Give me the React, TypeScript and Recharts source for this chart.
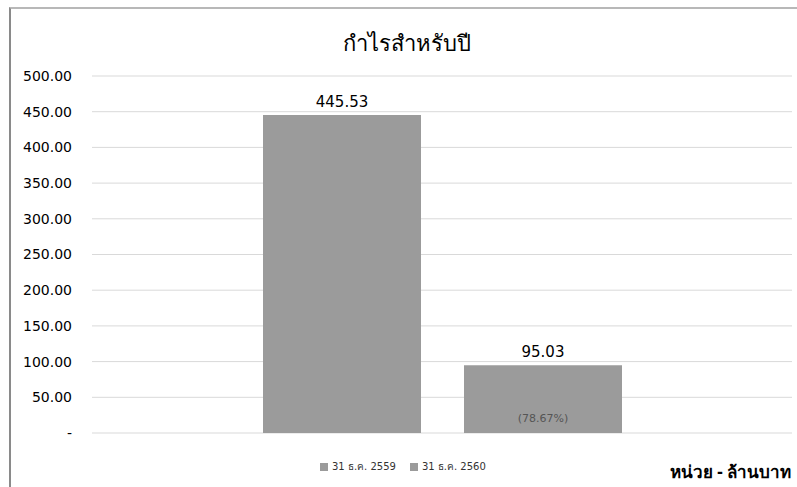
import { Bar, BarChart, CartesianGrid, LabelList, XAxis, YAxis } from "recharts";

const categories = ["กำไรสำหรับปี"];
const seriesNames = ["31 ธ.ค. 2559", "31 ธ.ค. 2560"];
const profit2559 = [445.53];
const profit2560 = [95.03];
const change2560 = ["(78.67%)"];
const yTicks = [0, 50, 100, 150, 200, 250, 300, 350, 400, 450, 500];

const BAR_FILL = "#9b9b9b";

const data = categories.map((c, i) => ({
  name: c,
  y2559: profit2559[i],
  y2560: profit2560[i],
  change: change2560[i],
}));

const fmt = (v: number) => (v === 0 ? "-" : v.toFixed(2));

export default function App() {
  return (
    <div style={{ position: "absolute", left: 0, top: 0, width: 797, height: 487, background: "#fff" }}>
      <div
        style={{
          position: "absolute",
          left: 9,
          top: 7,
          width: 788,
          height: 480,
          borderLeft: "2px solid #8a8a8a",
          borderTop: "2px solid #b8b8b8",
        }}
      />
      <div
        style={{
          position: "absolute",
          left: 0,
          width: 797,
          top: 26,
          textAlign: "center",
          fontFamily: "Tahoma, 'Noto Sans', sans-serif",
          fontSize: 22,
          fontWeight: 500,
          paddingLeft: 8,
          color: "#000",
        }}
      >
        {categories[0]}
      </div>
      <BarChart
        width={797}
        height={487}
        data={data}
        margin={{ top: 76, right: 5, bottom: 54, left: 0 }}
        barSize={158}
        barGap={43}
      >
        <CartesianGrid vertical={false} stroke="#d9d9d9" />
        <XAxis dataKey="name" hide />
        <YAxis
          width={92}
          domain={[0, 500]}
          ticks={yTicks}
          tickFormatter={fmt}
          axisLine={false}
          tickLine={false}
          tickSize={0}
          tickMargin={20}
          tick={{ fill: "#000", fontSize: 14, fontFamily: "DejaVu Sans, sans-serif" }}
        />
        <Bar dataKey="y2559" name={seriesNames[0]} fill={BAR_FILL} isAnimationActive={false}>
          <LabelList
            dataKey="y2559"
            position="top"
            offset={8}
            formatter={(v: any) => fmt(Number(v))}
            style={{ fill: "#000", fontSize: 15, fontFamily: "DejaVu Sans, sans-serif" }}
          />
        </Bar>
        <Bar dataKey="y2560" name={seriesNames[1]} fill={BAR_FILL} isAnimationActive={false}>
          <LabelList
            dataKey="y2560"
            position="top"
            offset={8}
            formatter={(v: any) => fmt(Number(v))}
            style={{ fill: "#000", fontSize: 15, fontFamily: "DejaVu Sans, sans-serif" }}
          />
          <LabelList
            dataKey="change"
            position="insideBottom"
            offset={11}
            style={{ fill: "#555", fontSize: 11, fontFamily: "DejaVu Sans, sans-serif" }}
          />
        </Bar>
      </BarChart>
      <div
        style={{
          position: "absolute",
          left: 320,
          top: 459,
          display: "flex",
          gap: 14,
          fontFamily: "DejaVu Sans, sans-serif",
          fontSize: 10,
          color: "#333",
        }}
      >
        {seriesNames.map((n) => (
          <span key={n} style={{ display: "flex", alignItems: "center", gap: 4 }}>
            <span style={{ width: 8, height: 8, background: BAR_FILL, display: "inline-block" }} />
            {n}
          </span>
        ))}
      </div>
      <div
        style={{
          position: "absolute",
          right: 6,
          bottom: 2,
          fontFamily: "Tahoma, 'Noto Sans', sans-serif",
          fontWeight: "bold",
          fontSize: 17,
          color: "#000",
        }}
      >
        หน่วย - ล้านบาท
      </div>
    </div>
  );
}
